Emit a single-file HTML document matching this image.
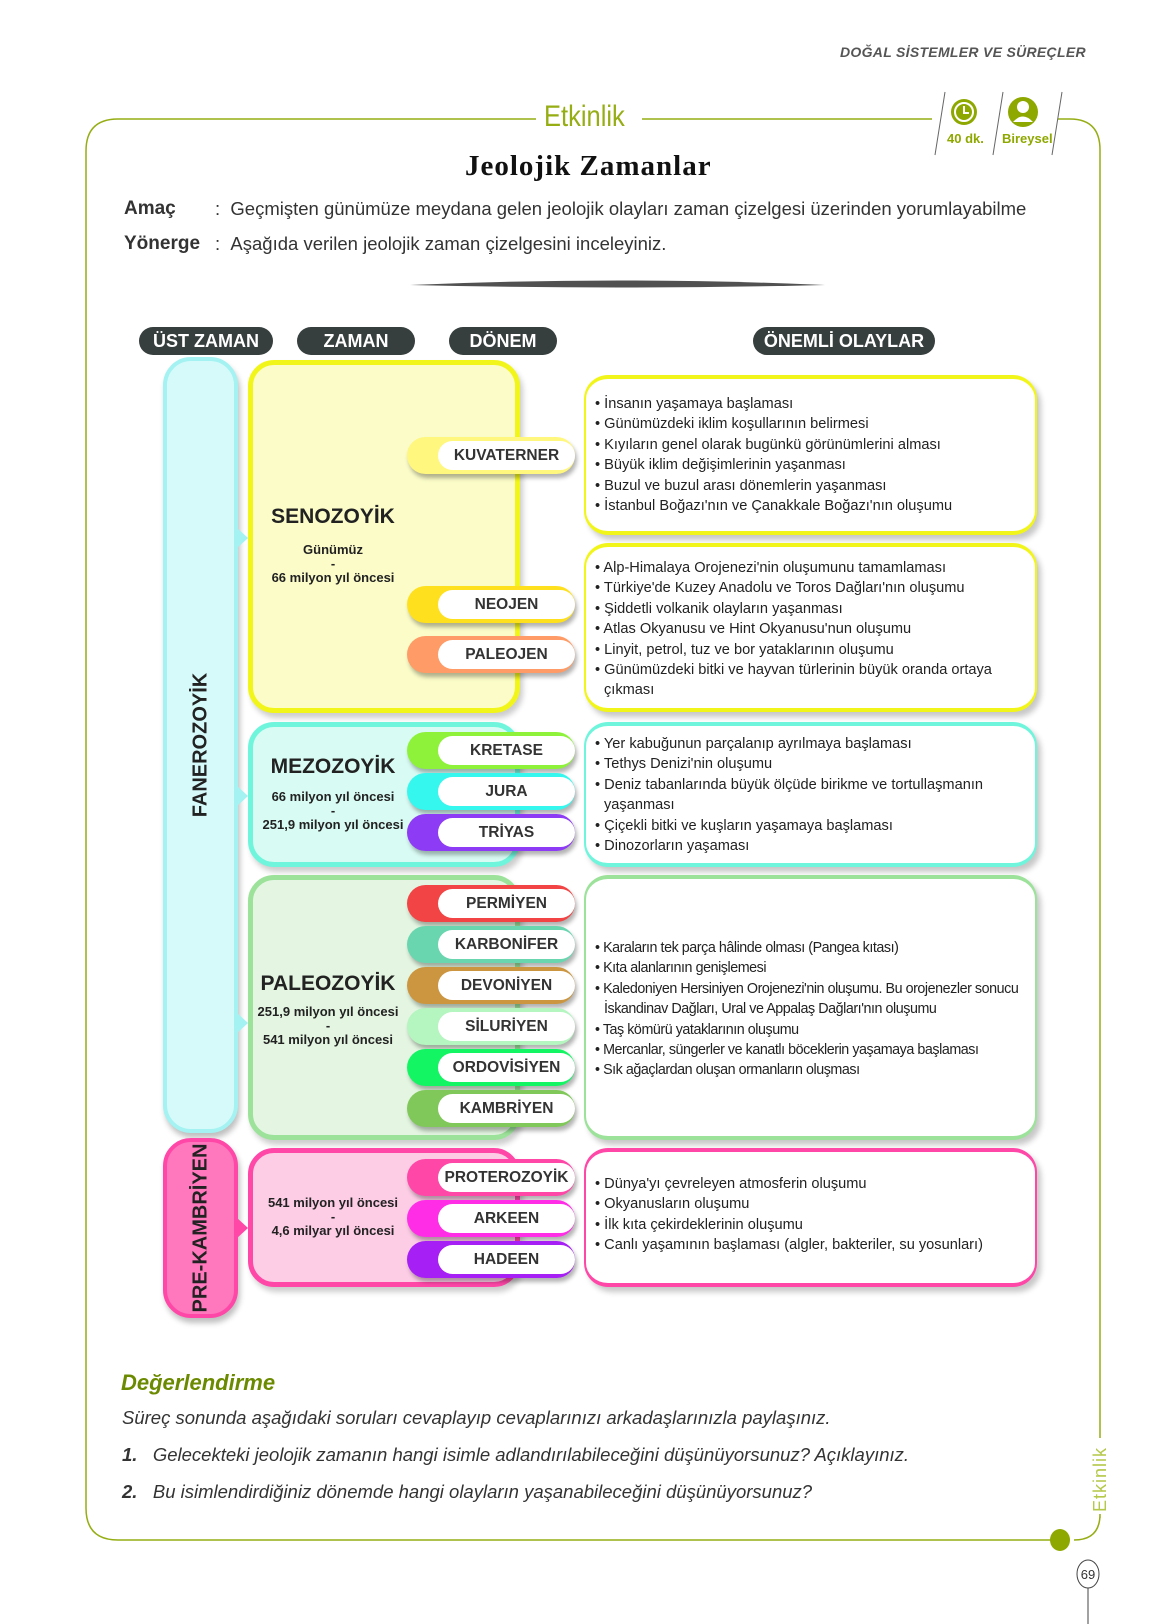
<!DOCTYPE html>
<html><head><meta charset="utf-8"><style>
*{margin:0;padding:0;box-sizing:border-box}
body{width:1152px;height:1624px;background:#fff;position:relative;font-family:"Liberation Sans",sans-serif;color:#2b2b2b;overflow:hidden}
.a{position:absolute}
.hp{position:absolute;top:327px;height:28px;background:#363e3e;color:#fff;border-radius:14px;font-weight:bold;font-size:18px;text-align:center;line-height:28px}
.bar{position:absolute;left:163px;width:75px;border-radius:28px;box-shadow:2px 5px 6px rgba(0,0,0,.25)}
.vt{position:absolute;left:50%;top:50%;transform:translate(-50%,-50%) rotate(-90deg);font-weight:bold;font-size:20px;white-space:nowrap;color:#222}
.zb{position:absolute;left:248px;width:272px;border-radius:26px;border:5px solid;box-shadow:3px 5px 6px rgba(0,0,0,.2)}
.zt{position:absolute;left:248px;width:170px;text-align:center;color:#222;font-weight:bold}
.pill{position:absolute;left:407px;width:168px;height:37px;border-radius:19px;box-shadow:2px 4px 4px rgba(0,0,0,.3)}
.pill span{position:absolute;left:31px;right:0;top:4px;bottom:4px;background:#fff;border-radius:15px;font-weight:bold;font-size:15.5px;text-align:center;line-height:29px;color:#333}
.eb{position:absolute;left:584px;width:453px;background:#fff;border-radius:24px;border:4px solid;border-left-width:2px;border-right-width:2px;box-shadow:4px 5px 6px rgba(0,0,0,.22)}
.el{position:absolute;left:595px;font-size:14.6px;line-height:20.4px;color:#222}
.el div{padding-left:9px;text-indent:-9px}
.arr{position:absolute;left:236px;width:0;height:0;border-top:11px solid transparent;border-bottom:11px solid transparent;border-left:12px solid}
</style></head><body>
<div class="a" style="left:840px;top:44px;font-size:14px;font-style:italic;font-weight:bold;color:#555;letter-spacing:.3px">DOĞAL SİSTEMLER VE SÜREÇLER</div>
<svg class="a" style="left:0;top:0" width="1152" height="1624">
<path d="M536 119 H118 Q86 119 86 151 V1508 Q86 1540 118 1540 H1052" fill="none" stroke="#96ad14" stroke-width="1.5"/>
<path d="M642 119 H932" fill="none" stroke="#96ad14" stroke-width="1.5"/>
<path d="M1058 119 H1070 Q1100 119 1100 150 V1438" fill="none" stroke="#96ad14" stroke-width="1.5"/>
<path d="M1100 1518 V1514 Q1100 1540 1074 1540" fill="none" stroke="#96ad14" stroke-width="1.5"/>
<ellipse cx="1060" cy="1540" rx="10" ry="11" fill="#8fa800"/>
<line x1="945" y1="92" x2="935" y2="155" stroke="#666" stroke-width="1"/>
<line x1="1003" y1="92" x2="993" y2="155" stroke="#666" stroke-width="1"/>
<line x1="1062" y1="92" x2="1052" y2="155" stroke="#666" stroke-width="1"/>
<circle cx="964" cy="112" r="13" fill="#8fa800"/><circle cx="964" cy="112" r="9" fill="none" stroke="#fff" stroke-width="2"/>
<path d="M964 106 V113 H969" stroke="#fff" stroke-width="2" fill="none"/>
<circle cx="1023" cy="112" r="15" fill="#8fa800"/><circle cx="1023" cy="107" r="6" fill="#fff"/><path d="M1013 122 Q1023 111 1033 122Z" fill="#fff"/>
<path d="M410 285 Q620 276 825 285 Q620 290 410 285Z" fill="#333" opacity=".85"/>
<ellipse cx="1088" cy="1574" rx="11" ry="14" fill="none" stroke="#444" stroke-width="1"/>
<line x1="1088" y1="1588" x2="1088" y2="1624" stroke="#444" stroke-width="1"/>
<text x="1088" y="1579" font-family="Liberation Sans" font-size="13" fill="#333" text-anchor="middle">69</text>
</svg>
<div class="a" style="left:544px;top:100px;font-size:30px;color:#96ad14;transform:scaleX(.85);transform-origin:left">Etkinlik</div>
<div class="a" style="left:947px;top:131px;font-size:13px;color:#8fa800;font-weight:bold">40 dk.</div>
<div class="a" style="left:1002px;top:131px;font-size:13px;color:#8fa800;font-weight:bold">Bireysel</div>
<div class="a" style="left:1090px;top:1512px;font-size:18px;color:#b5c84a;transform:rotate(-90deg);transform-origin:left top;letter-spacing:1px">Etkinlik</div>
<div class="a" style="left:465px;top:150px;font-family:'Liberation Serif',serif;font-weight:bold;font-size:29px;letter-spacing:1px;color:#111">Jeolojik Zamanlar</div>
<div class="a" style="left:124px;top:198px;font-size:19px;font-weight:bold;color:#333">Amaç</div>
<div class="a" style="left:124px;top:233px;font-size:19px;font-weight:bold;color:#333">Yönerge</div>
<div class="a" style="left:215px;top:198px;font-size:18.5px;color:#333">:&nbsp;&nbsp;Geçmişten günümüze meydana gelen jeolojik olayları zaman çizelgesi üzerinden yorumlayabilme</div>
<div class="a" style="left:215px;top:233px;font-size:18.5px;color:#333">:&nbsp;&nbsp;Aşağıda verilen jeolojik zaman çizelgesini inceleyiniz.</div>

<div class="hp" style="left:139px;width:134px">ÜST ZAMAN</div>
<div class="hp" style="left:297px;width:118px">ZAMAN</div>
<div class="hp" style="left:449px;width:108px">DÖNEM</div>
<div class="hp" style="left:753px;width:182px">ÖNEMLİ OLAYLAR</div>

<div class="bar" style="top:357px;height:776px;background:#d6fafa;border:4px solid #a4f2f2"><div class="vt">FANEROZOYİK</div></div>
<div class="bar" style="top:1138px;height:180px;background:#ff78bd;border:4px solid #ff47a8"><div class="vt">PRE-KAMBRİYEN</div></div>
<div class="arr" style="top:527px;border-left-color:#a4f2f2"></div>
<div class="arr" style="top:785px;border-left-color:#a4f2f2"></div>
<div class="arr" style="top:1012px;border-left-color:#a4f2f2"></div>
<div class="arr" style="top:1217px;border-left-color:#ff47a8"></div>

<div class="zb" style="top:360px;height:353px;background:#fbfcc8;border-color:#f2f51a"></div>
<div class="zb" style="top:722px;height:145px;background:#d8fbf3;border-color:#6ff5dc"></div>
<div class="zb" style="top:875px;height:265px;background:#e4f6e2;border-color:#9ce29a"></div>
<div class="zb" style="top:1148px;height:139px;background:#fdcde6;border-color:#ff47a8"></div>

<div class="zt" style="top:505px;font-size:21px">SENOZOYİK</div>
<div class="zt" style="top:543px;font-size:13px;line-height:14px">Günümüz<br>-<br>66 milyon yıl öncesi</div>
<div class="zt" style="top:755px;font-size:21px">MEZOZOYİK</div>
<div class="zt" style="top:790px;font-size:13px;line-height:14px">66 milyon yıl öncesi<br>-<br>251,9 milyon yıl öncesi</div>
<div class="zt" style="top:972px;font-size:21px;width:160px">PALEOZOYİK</div>
<div class="zt" style="top:1005px;font-size:13px;line-height:14px;width:160px">251,9 milyon yıl öncesi<br>-<br>541 milyon yıl öncesi</div>
<div class="zt" style="top:1196px;font-size:13px;line-height:14px">541 milyon yıl öncesi<br>-<br>4,6 milyar yıl öncesi</div>

<div class="pill" style="top:437px;background:#fff77e"><span>KUVATERNER</span></div>
<div class="pill" style="top:586px;background:#ffe01f"><span>NEOJEN</span></div>
<div class="pill" style="top:636px;background:#ff9b66"><span>PALEOJEN</span></div>
<div class="pill" style="top:732px;background:#8ef23a"><span>KRETASE</span></div>
<div class="pill" style="top:773px;background:#36f7ee"><span>JURA</span></div>
<div class="pill" style="top:814px;background:#8e3bf5"><span>TRİYAS</span></div>
<div class="pill" style="top:885px;background:#f24444"><span>PERMİYEN</span></div>
<div class="pill" style="top:926px;background:#6ad6b0"><span>KARBONİFER</span></div>
<div class="pill" style="top:967px;background:#cc9640"><span>DEVONİYEN</span></div>
<div class="pill" style="top:1008px;background:#b4f5c0"><span>SİLURİYEN</span></div>
<div class="pill" style="top:1049px;background:#14f564"><span>ORDOVİSİYEN</span></div>
<div class="pill" style="top:1090px;background:#80c85a"><span>KAMBRİYEN</span></div>
<div class="pill" style="top:1159px;background:#ff47a8"><span>PROTEROZOYİK</span></div>
<div class="pill" style="top:1200px;background:#ff2ee6"><span>ARKEEN</span></div>
<div class="pill" style="top:1241px;background:#a61ff5"><span>HADEEN</span></div>

<div class="eb" style="top:375px;height:160px;border-color:#f2f51a"></div>
<div class="eb" style="top:543px;height:169px;border-color:#f2f51a"></div>
<div class="eb" style="top:722px;height:145px;border-color:#6ff5dc"></div>
<div class="eb" style="top:875px;height:265px;border-color:#9ce29a"></div>
<div class="eb" style="top:1148px;height:139px;border-color:#ff47a8"></div>

<div class="el" style="top:394px">
<div>• İnsanın yaşamaya başlaması</div><div>• Günümüzdeki iklim koşullarının belirmesi</div><div>• Kıyıların genel olarak bugünkü görünümlerini alması</div><div>• Büyük iklim değişimlerinin yaşanması</div><div>• Buzul ve buzul arası dönemlerin yaşanması</div><div>• İstanbul Boğazı'nın ve Çanakkale Boğazı'nın oluşumu</div></div>
<div class="el" style="top:558px;width:430px">
<div>• Alp-Himalaya Orojenezi'nin oluşumunu tamamlaması</div><div>• Türkiye'de Kuzey Anadolu ve Toros Dağları'nın oluşumu</div><div>• Şiddetli volkanik olayların yaşanması</div><div>• Atlas Okyanusu ve Hint Okyanusu'nun oluşumu</div><div>• Linyit, petrol, tuz ve bor yataklarının oluşumu</div><div>• Günümüzdeki bitki ve hayvan türlerinin büyük oranda ortaya çıkması</div></div>
<div class="el" style="top:734px;width:430px">
<div>• Yer kabuğunun parçalanıp ayrılmaya başlaması</div><div>• Tethys Denizi'nin oluşumu</div><div>• Deniz tabanlarında büyük ölçüde birikme ve tortullaşmanın yaşanması</div><div>• Çiçekli bitki ve kuşların yaşamaya başlaması</div><div>• Dinozorların yaşaması</div></div>
<div class="el" style="top:938px;width:444px;letter-spacing:-.45px;font-size:14.3px">
<div>• Karaların tek parça hâlinde olması (Pangea kıtası)</div><div>• Kıta alanlarının genişlemesi</div><div>• Kaledoniyen Hersiniyen Orojenezi'nin oluşumu. Bu orojenezler sonucu İskandinav Dağları, Ural ve Appalaş Dağları'nın oluşumu</div><div>• Taş kömürü yataklarının oluşumu</div><div>• Mercanlar, süngerler ve kanatlı böceklerin yaşamaya başlaması</div><div>• Sık ağaçlardan oluşan ormanların oluşması</div></div>
<div class="el" style="top:1174px">
<div>• Dünya'yı çevreleyen atmosferin oluşumu</div><div>• Okyanusların oluşumu</div><div>• İlk kıta çekirdeklerinin oluşumu</div><div>• Canlı yaşamının başlaması (algler, bakteriler, su yosunları)</div></div>

<div class="a" style="left:121px;top:1370px;font-size:22px;font-weight:bold;font-style:italic;color:#6b8a00">Değerlendirme</div>
<div class="a" style="left:122px;top:1407px;font-size:18.5px;font-style:italic;color:#333">Süreç sonunda aşağıdaki soruları cevaplayıp cevaplarınızı arkadaşlarınızla paylaşınız.</div>
<div class="a" style="left:122px;top:1444px;font-size:18.5px;font-style:italic;color:#333"><b>1.</b>&nbsp;&nbsp;&nbsp;Gelecekteki jeolojik zamanın hangi isimle adlandırılabileceğini düşünüyorsunuz? Açıklayınız.</div>
<div class="a" style="left:122px;top:1481px;font-size:18.5px;font-style:italic;color:#333"><b>2.</b>&nbsp;&nbsp;&nbsp;Bu isimlendirdiğiniz dönemde hangi olayların yaşanabileceğini düşünüyorsunuz?</div>
</body></html>
